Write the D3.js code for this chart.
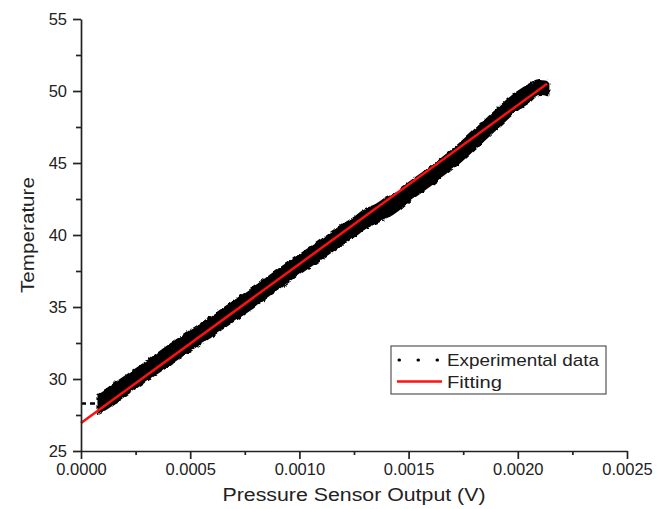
<!DOCTYPE html>
<html>
<head>
<meta charset="utf-8">
<script src="https://cdn.jsdelivr.net/npm/d3@7"></script>
<style>
  html, body { margin: 0; padding: 0; background: #fff; }
  svg text { font-family: "Liberation Sans", Arial, sans-serif; fill: #222; }
</style>
</head>
<body>
<div id="chart"></div>
<script>
// ---------- data ----------
const xTicks = [0, 0.0005, 0.0010, 0.0015, 0.0020, 0.0025];
const xMinor = [0.00025, 0.00075, 0.00125, 0.00175, 0.00225];
const yTicks = [25, 30, 35, 40, 45, 50, 55];
const yMinor = [27.5, 32.5, 37.5, 42.5, 47.5, 52.5];

// experimental data band: x, lower and upper edge of the black cloud
const expX    = [0.00008, 0.0001, 0.0002, 0.0003, 0.0004, 0.0005, 0.0006, 0.0007, 0.0008, 0.0009, 0.0010, 0.0011, 0.0012, 0.00125, 0.0013, 0.00135, 0.0014, 0.00145, 0.0015, 0.0016, 0.0017, 0.0018, 0.0019, 0.0020, 0.00205, 0.0021, 0.00213, 0.00214];
const expLow  = [27.65, 27.8, 28.85, 29.9, 30.95, 32.0, 33.0, 34.05, 35.1, 36.2, 37.3, 38.35, 39.4, 39.9, 40.45, 40.85, 41.2, 41.7, 42.35, 43.45, 44.6, 45.95, 47.35, 48.7, 49.2, 49.8, 49.75, 49.7];
const expHigh = [28.9, 29.1, 30.15, 31.2, 32.3, 33.35, 34.35, 35.4, 36.45, 37.55, 38.6, 39.65, 40.7, 41.2, 41.75, 42.1, 42.6, 43.0, 43.6, 44.7, 45.9, 47.25, 48.65, 49.95, 50.4, 50.7, 50.65, 50.5];

// sparse dotted lead-in before the dense cloud
const leadX = [0, 0.00008];
const leadY = [28.3, 28.3];

// linear fit
const fitX = [0, 0.002134];
const fitY = [26.95, 50.5];

// ---------- layout ----------
const width = 665, height = 509;
const svg = d3.select('#chart').append('svg')
  .attr('width', width).attr('height', height);

const x = d3.scaleLinear().domain([0, 0.0025]).range([81, 627]);
const y = d3.scaleLinear().domain([25, 55]).range([451, 19]);

// rough edge for the dense scatter cloud
const defs = svg.append('defs');
const rough = defs.append('filter').attr('id', 'rough')
  .attr('x', '-5%').attr('y', '-5%').attr('width', '110%').attr('height', '110%');
rough.append('feTurbulence')
  .attr('type', 'fractalNoise').attr('baseFrequency', 0.18)
  .attr('numOctaves', 2).attr('seed', 3).attr('result', 'noise');
rough.append('feDisplacementMap')
  .attr('in', 'SourceGraphic').attr('in2', 'noise')
  .attr('scale', 4).attr('xChannelSelector', 'R').attr('yChannelSelector', 'G');

// ---------- data marks ----------
const band = expX.map((v, i) => ({ x: v, lo: expLow[i], hi: expHigh[i] }));
svg.append('path')
  .datum(band)
  .attr('d', d3.area().x(d => x(d.x)).y0(d => y(d.lo)).y1(d => y(d.hi)).curve(d3.curveMonotoneX))
  .attr('fill', '#000')
  .attr('stroke', '#000')
  .attr('stroke-width', 2)
  .attr('stroke-linejoin', 'round')
  .attr('filter', 'url(#rough)');

svg.append('path')
  .datum(leadX.map((v, i) => [v, leadY[i]]))
  .attr('d', d3.line().x(d => x(d[0])).y(d => y(d[1])))
  .attr('fill', 'none')
  .attr('stroke', '#000')
  .attr('stroke-width', 2.5)
  .attr('stroke-dasharray', '5,4');

svg.append('path')
  .datum(fitX.map((v, i) => [v, fitY[i]]))
  .attr('d', d3.line().x(d => x(d[0])).y(d => y(d[1])))
  .attr('fill', 'none')
  .attr('stroke', '#ff1010')
  .attr('stroke-width', 2.5);

// ---------- axes ----------
const axisColor = '#222';

svg.append('g').attr('transform', `translate(0,${y(25)})`)
  .call(d3.axisBottom(x).tickValues(xTicks).tickFormat(d3.format('.4f'))
    .tickSize(8).tickSizeOuter(0).tickPadding(4));
svg.append('g').attr('transform', `translate(0,${y(25)})`)
  .call(d3.axisBottom(x).tickValues(xMinor).tickFormat('').tickSize(4).tickSizeOuter(0))
  .select('.domain').remove();

svg.append('g').attr('transform', `translate(${x(0)},0)`)
  .call(d3.axisLeft(y).tickValues(yTicks).tickFormat(d3.format('d'))
    .tickSize(8).tickSizeOuter(0).tickPadding(6));
svg.append('g').attr('transform', `translate(${x(0)},0)`)
  .call(d3.axisLeft(y).tickValues(yMinor).tickFormat('').tickSize(5).tickSizeOuter(0))
  .select('.domain').remove();

svg.selectAll('.domain, .tick line')
  .attr('stroke', axisColor).attr('stroke-width', 1.7);
svg.selectAll('.tick text')
  .attr('font-size', 16.5).attr('fill', '#222')
  .style('font-family', '"Liberation Sans", Arial, sans-serif');

// axis titles
svg.append('text')
  .attr('x', (x(0) + x(0.0025)) / 2).attr('y', 501)
  .attr('text-anchor', 'middle').attr('font-size', 18)
  .attr('textLength', 263).attr('lengthAdjust', 'spacingAndGlyphs')
  .text('Pressure Sensor Output (V)');

svg.append('text')
  .attr('transform', `translate(34,${(y(25) + y(55)) / 2}) rotate(-90)`)
  .attr('text-anchor', 'middle').attr('font-size', 18)
  .attr('textLength', 116).attr('lengthAdjust', 'spacingAndGlyphs')
  .text('Temperature');

// ---------- legend ----------
const legend = svg.append('g').attr('transform', 'translate(391,346)');
legend.append('rect')
  .attr('width', 215).attr('height', 48)
  .style('fill', '#ffffff').attr('stroke', '#555').attr('stroke-width', 1.2);

legend.append('line')
  .attr('x1', 8).attr('x2', 48).attr('y1', 14).attr('y2', 14)
  .attr('stroke', '#000').attr('stroke-width', 3)
  .attr('stroke-linecap', 'round').attr('stroke-dasharray', '0.5,18.5');
legend.append('text')
  .attr('x', 56).attr('y', 20).attr('font-size', 17)
  .attr('textLength', 152).attr('lengthAdjust', 'spacingAndGlyphs')
  .text('Experimental data');

legend.append('line')
  .attr('x1', 6).attr('x2', 51).attr('y1', 35.5).attr('y2', 35.5)
  .attr('stroke', '#ff1010').attr('stroke-width', 2.5);
legend.append('text')
  .attr('x', 56).attr('y', 41.5).attr('font-size', 17)
  .attr('textLength', 55).attr('lengthAdjust', 'spacingAndGlyphs')
  .text('Fitting');
</script>
</body>
</html>
